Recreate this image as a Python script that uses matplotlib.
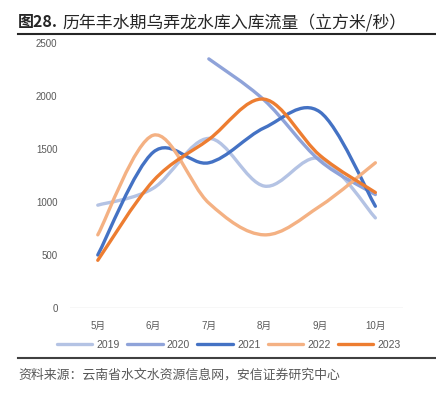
import numpy as np
import matplotlib
matplotlib.use('Agg')
import matplotlib.pyplot as plt
from matplotlib.path import Path
from matplotlib.patches import PathPatch
from matplotlib.lines import Line2D

plt.rcParams['font.family'] = ['Liberation Sans', 'Noto Sans CJK SC', 'DejaVu Sans']
cjk = ['Noto Sans CJK SC', 'DejaVu Sans']

# data
months = ['5月', '6月', '7月', '8月', '9月', '10月']
years = ['2019', '2020', '2021', '2022', '2023']
y2019 = [970, 1130, 1600, 1150, 1410, 850]
y2020 = [None, None, 2350, 1960, 1390, 1070]
y2021 = [500, 1470, 1370, 1700, 1850, 960]
y2022 = [690, 1630, 990, 690, 960, 1370]
y2023 = [450, 1200, 1590, 1970, 1440, 1090]
series = [y2019, y2020, y2021, y2022, y2023]
colors = ['#B4C3E4', '#8FA3D9', '#4472C4', '#F4B183', '#ED7D31']


def smooth_path(xs, ys):
    # excel-like smoothed line: cubic bezier through the points
    p = np.column_stack([xs, ys]).astype(float)
    n = len(p)
    verts = [p[0]]
    codes = [Path.MOVETO]
    for i in range(n - 1):
        p0 = p[i - 1] if i > 0 else p[i]
        p3 = p[i + 2] if i + 2 < n else p[i + 1]
        c1 = p[i] + (p[i + 1] - p0) / 6
        c2 = p[i + 1] - (p3 - p[i]) / 6
        verts += [c1, c2, p[i + 1]]
        codes += [Path.CURVE4] * 3
    return Path(verts, codes)


fig = plt.figure(figsize=(4.36, 3.97), dpi=100)
ax = fig.add_axes([0.1606, 0.2242, 0.764, 0.6675])

for vals, c in zip(series, colors):
    xs = [i for i, v in enumerate(vals) if v is not None]
    ys = [v for v in vals if v is not None]
    ax.add_patch(PathPatch(smooth_path(xs, ys), fill=False, edgecolor=c,
                           lw=2.4, capstyle='round', joinstyle='round'))

ax.set_xlim(-0.5, 5.5)
ax.set_ylim(0, 2500)
ax.set_yticks([0, 500, 1000, 1500, 2000, 2500])
ax.set_xticks(range(len(months)))
ax.set_xticklabels(months)
for s in ax.spines.values():
    s.set_visible(False)
ax.axhline(0, color='#D9D9D9', lw=1)
ax.tick_params(length=0, labelsize=7, colors='#595959', pad=9)
ax.tick_params(axis='x', pad=9)

handles = [Line2D([], [], color=c, lw=2.4, solid_capstyle='round') for c in colors]
fig.legend(handles, years, loc='center', bbox_to_anchor=(0.525, 0.131), ncol=5,
           frameon=False, fontsize=7.5, handlelength=3.4, columnspacing=0.7,
           handletextpad=0.4, labelcolor='#595959')

fig.text(0.041, 0.944, '图28.', fontsize=11.5, fontweight='bold',
         color='#262626', va='center', family=cjk)
fig.text(0.142, 0.944, '历年丰水期乌弄龙水库入库流量（立方米/秒）',
         fontsize=12.2, color='#262626', va='center', family=cjk)
fig.add_artist(Line2D([0.041, 1.0], [0.914, 0.914], color='#262626', lw=1.5))
fig.add_artist(Line2D([0.041, 1.0], [0.098, 0.098], color='#404040', lw=1.5))
fig.text(0.041, 0.055, '资料来源：云南省水文水资源信息网，安信证券研究中心',
         fontsize=9.3, style='italic', color='#595959', va='center', family=cjk)

fig.savefig('out.png', dpi=100)
